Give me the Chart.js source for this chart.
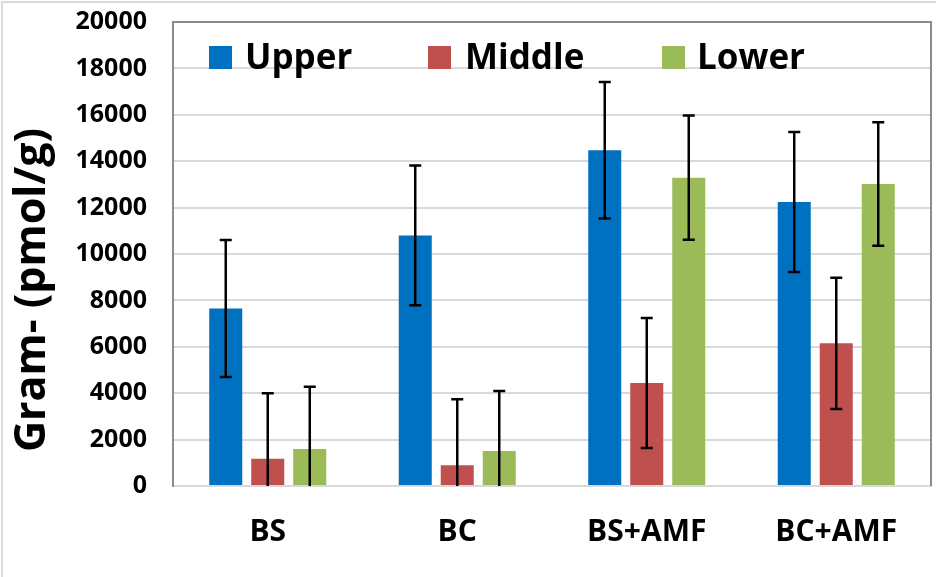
<!DOCTYPE html>
<html>
<head>
<meta charset="utf-8">
<script src="https://cdn.jsdelivr.net/npm/chart.js@4.4.1/dist/chart.umd.min.js"></script>
<style>
  html, body { margin: 0; padding: 0; background: #fff; }
  #wrap { width: 936px; height: 577px; }
</style>
</head>
<body>
<div id="wrap"><canvas id="gramChart" width="936" height="577"></canvas></div>
<script>
// dados
const categories = ['BS', 'BC', 'BS+AMF', 'BC+AMF'];
const seriesNames = ['Upper', 'Middle', 'Lower'];
const upperValues = [7650, 10800, 14470, 12240];
const middleValues = [1170, 890, 4440, 6150];
const lowerValues = [1600, 1510, 13290, 13020];
const upperErrors = [2950, 3010, 2940, 3020];
const middleErrors = [2830, 2850, 2800, 2830];
const lowerErrors = [2680, 2590, 2680, 2660];
const yTicks = [0, 2000, 4000, 6000, 8000, 10000, 12000, 14000, 16000, 18000, 20000];

const colors = ['#0070C0', '#C0504D', '#9BBB59'];
const FONT = "'Open Sans', 'DejaVu Sans', sans-serif";

// barras de erro (desvio padrão)
const errorBars = {
    id: 'errorBars',
    afterDatasetsDraw(chart) {
        const ctx = chart.ctx;
        const yScale = chart.scales.y;
        const area = chart.chartArea;
        ctx.save();
        ctx.strokeStyle = '#000';
        ctx.lineWidth = 2.5;
        chart.data.datasets.forEach((ds, di) => {
            const meta = chart.getDatasetMeta(di);
            meta.data.forEach((bar, i) => {
                const v = ds.data[i], e = ds.errors[i];
                const top = yScale.getPixelForValue(v + e);
                const low = v - e;
                const bottom = low < 0 ? area.bottom : yScale.getPixelForValue(low);
                ctx.beginPath();
                ctx.moveTo(bar.x, top);
                ctx.lineTo(bar.x, bottom);
                ctx.moveTo(bar.x - 6, top);
                ctx.lineTo(bar.x + 6, top);
                if (low >= 0) {
                    ctx.moveTo(bar.x - 6, bottom);
                    ctx.lineTo(bar.x + 6, bottom);
                }
                ctx.stroke();
            });
        });
        ctx.restore();
    }
};

// moldura, legenda e título do eixo Y
const decor = {
    id: 'decor',
    afterDraw(chart) {
        const ctx = chart.ctx;
        const a = chart.chartArea;
        ctx.save();
        // moldura externa
        ctx.strokeStyle = '#d9d9d9';
        ctx.lineWidth = 2;
        ctx.beginPath();
        ctx.moveTo(2, 577);
        ctx.lineTo(2, 2);
        ctx.lineTo(936, 2);
        ctx.stroke();
        // borda da área do gráfico
        ctx.strokeStyle = '#8c8c8c';
        ctx.beginPath();
        ctx.moveTo(a.left, a.top);
        ctx.lineTo(a.right, a.top);
        ctx.lineTo(a.right, a.bottom);
        ctx.stroke();

        // legenda
        const boxX = [209, 428, 662];
        const textX = [245, 465, 697];
        ctx.font = 'bold 35px ' + FONT;
        ctx.textBaseline = 'alphabetic';
        ctx.textAlign = 'left';
        seriesNames.forEach((name, i) => {
            ctx.fillStyle = colors[i];
            ctx.fillRect(boxX[i], 46, 23, 23);
            ctx.fillStyle = '#000';
            ctx.fillText(name, textX[i], 69);
        });

        // título do eixo Y
        ctx.translate(33, 290);
        ctx.rotate(-Math.PI / 2);
        ctx.font = 'bold 43px ' + FONT;
        ctx.textAlign = 'center';
        ctx.textBaseline = 'middle';
        ctx.fillText('Gram- (pmol/g)', 0, 0);
        ctx.restore();
    }
};

document.addEventListener('DOMContentLoaded', function() {
    const ctx = document.getElementById('gramChart');
    const values = [upperValues, middleValues, lowerValues];
    const errors = [upperErrors, middleErrors, lowerErrors];

    new Chart(ctx, {
        type: 'bar',
        data: {
            labels: categories,
            datasets: seriesNames.map((name, i) => ({
                label: name,
                data: values[i],
                errors: errors[i],
                backgroundColor: colors[i],
                borderWidth: 0,
                categoryPercentage: 0.665,
                barPercentage: 0.786
            }))
        },
        options: {
            responsive: false,
            animation: false,
            layout: { padding: { top: 22, right: 5, left: 0, bottom: 0 } },
            plugins: {
                legend: { display: false },
                tooltip: { enabled: false }
            },
            scales: {
                x: {
                    grid: { display: false, drawTicks: false },
                    border: { color: '#d9d9d9', width: 2 },
                    ticks: {
                        color: '#000',
                        font: { family: FONT, size: 30, weight: 'bold' },
                        padding: 28
                    },
                    afterFit: s => { s.height = 91; s.paddingLeft = 0; s.paddingRight = 0; }
                },
                y: {
                    min: 0,
                    max: 20000,
                    afterBuildTicks: s => { s.ticks = yTicks.map(v => ({ value: v })); },
                    grid: { color: '#d9d9d9', lineWidth: 2, drawTicks: false },
                    border: { color: '#8c8c8c', width: 2 },
                    ticks: {
                        color: '#000',
                        font: { family: FONT, size: 25, weight: 'bold' },
                        padding: 26,
                        callback: v => String(v)
                    },
                    afterFit: s => { s.width = 173; s.paddingTop = 0; s.paddingBottom = 0; }
                }
            }
        },
        plugins: [errorBars, decor]
    });
});
</script>
</body>
</html>
